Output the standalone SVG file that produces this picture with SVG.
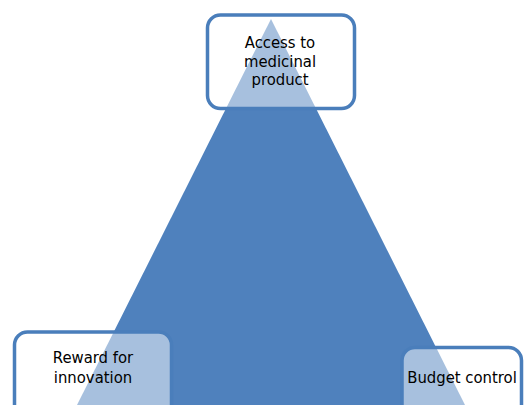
<svg xmlns="http://www.w3.org/2000/svg" width="524" height="405" viewBox="0 0 524 405">
<style>
.box{fill:#ffffff;fill-opacity:0.5;stroke:#4a7ebb;stroke-width:3.5}
.lbl{font-family:"DejaVu Sans Condensed","DejaVu Sans",sans-serif;font-stretch:condensed;font-size:16.5px;fill:#000000;text-anchor:middle}
</style>
<rect width="524" height="405" fill="#ffffff"/>
<g id="triangle">
<polygon points="271,19 77,405 465,405" fill="#4f81bd"/>
</g>
<g id="connectors"/>
<g id="access">
<rect class="box" x="207.5" y="15" width="147" height="93.5" rx="13"/>
<text class="lbl" x="280" y="48">Access to</text>
<text class="lbl" x="280" y="66.5">medicinal</text>
<text class="lbl" x="280" y="85">product</text>
</g>
<g id="reward">
<rect class="box" x="14.5" y="332" width="157" height="90" rx="13"/>
<text class="lbl" x="93" y="363">Reward for</text>
<text class="lbl" x="93" y="382.5">innovation</text>
</g>
<g id="budget">
<rect class="box" x="402" y="347.5" width="119.5" height="80" rx="13"/>
<text class="lbl" x="462" y="383">Budget control</text>
</g>
</svg>
